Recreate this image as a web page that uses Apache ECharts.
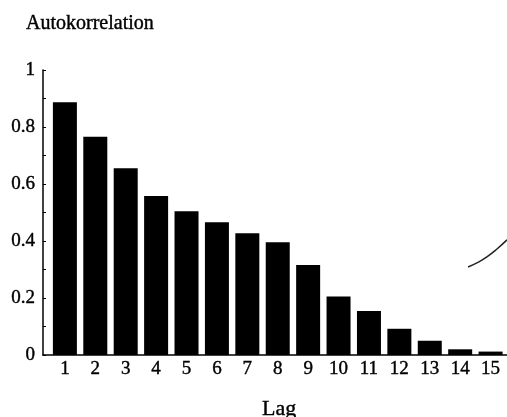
<!DOCTYPE html>
<html>
<head>
<meta charset="utf-8">
<script src="https://cdn.jsdelivr.net/npm/echarts@6/dist/echarts.min.js"></script>
<style>
  html, body { margin: 0; padding: 0; background: #fff; }
  #chart { width: 507px; height: 417px; }
</style>
</head>
<body>
<div id="chart"></div>
<script>
// lags and autocorrelation values
const lags = [1, 2, 3, 4, 5, 6, 7, 8, 9, 10, 11, 12, 13, 14, 15];
const acf = [0.887, 0.766, 0.655, 0.558, 0.504, 0.466, 0.427, 0.396, 0.316, 0.205, 0.154, 0.092, 0.05, 0.02, 0.012];
const yTicks = [0, 0.2, 0.4, 0.6, 0.8, 1];
// stray curve at the right edge (part of the scan)
const curveX = [14.26, 14.6, 14.89, 15.21, 15.54];
const curveY = [0.309, 0.326, 0.345, 0.372, 0.404];

const font = "'Liberation Serif', 'DejaVu Serif', serif";
// scanned text looks a bit heavy, thicken it slightly
const ink = { color: "#000", fontFamily: font, textBorderColor: "#000", textBorderWidth: 0.4 };
const chart = echarts.init(document.getElementById("chart"));

chart.setOption({
  animation: false,
  backgroundColor: "#fff",
  textStyle: { fontFamily: font, color: "#000" },
  grid: { left: 43, right: 0, top: 70, bottom: 62 },
  title: [
    {
      text: "Autokorrelation",
      left: 21,
      top: 9,
      textStyle: { ...ink, fontSize: 20, fontWeight: "normal" },
    },
    {
      text: "Lag",
      left: 257,
      top: 393,
      textStyle: { ...ink, fontSize: 22, fontWeight: "normal" },
    },
  ],
  xAxis: {
    type: "value",
    min: 0.28,
    max: 15.54,
    axisLine: { show: true, onZero: false, lineStyle: { color: "#000", width: 1.5 } },
    axisTick: { show: false },
    splitLine: { show: false },
    axisLabel: {
      ...ink,
      customValues: lags,
      fontSize: 19,
      margin: 5,
      formatter: (v) => String(v),
    },
  },
  yAxis: {
    type: "value",
    min: 0,
    max: 1,
    interval: 0.2,
    axisLine: { show: true, lineStyle: { color: "#000", width: 1.5 } },
    axisTick: { show: true, inside: true, length: 3, lineStyle: { color: "#000" } },
    minorTick: { show: true, splitNumber: 2, length: 3, lineStyle: { color: "#000" } },
    splitLine: { show: false },
    axisLabel: {
      ...ink,
      fontSize: 19,
      margin: 8,
      formatter: (v) => (yTicks.includes(Math.round(v * 10) / 10) ? String(Math.round(v * 10) / 10) : ""),
    },
  },
  series: [
    {
      type: "bar",
      data: lags.map((l, i) => [l, acf[i]]),
      barWidth: 24,
      itemStyle: { color: "#000" },
    },
    {
      type: "line",
      data: curveX.map((x, i) => [x, curveY[i]]),
      smooth: true,
      showSymbol: false,
      lineStyle: { color: "#222", width: 1.5 },
    },
  ],
});
</script>
</body>
</html>
